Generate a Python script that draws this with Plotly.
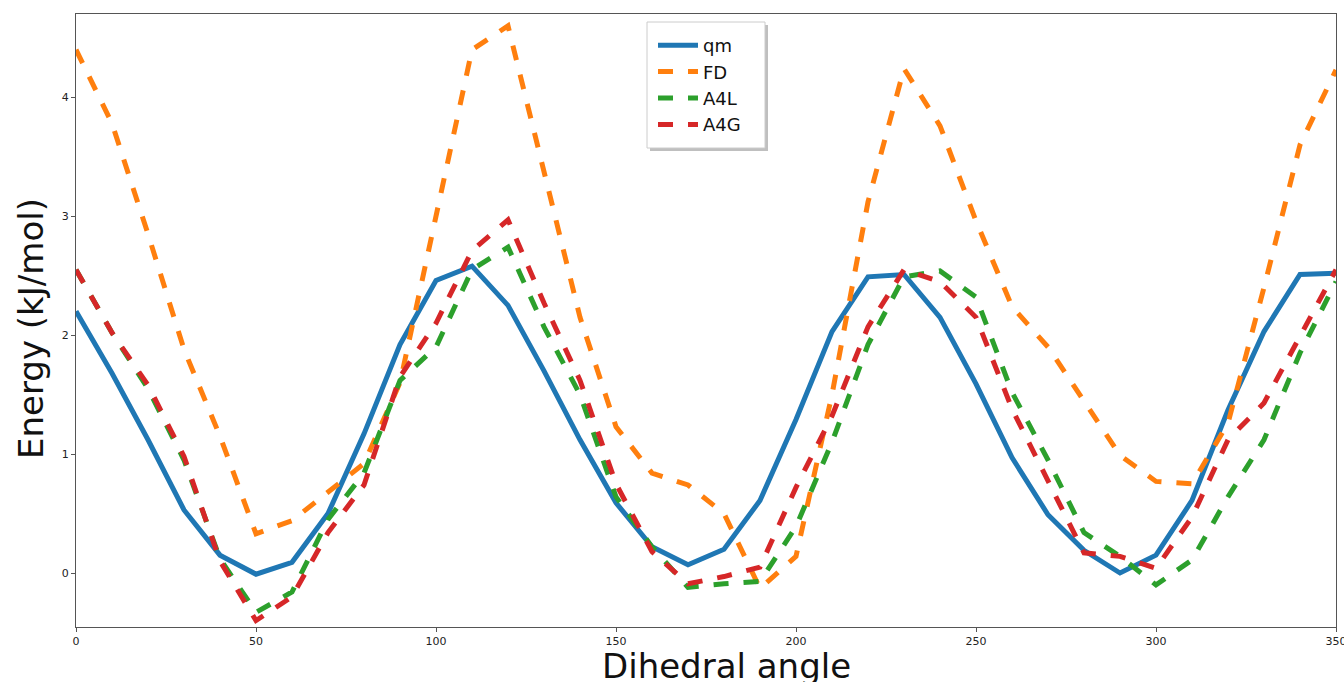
import plotly.graph_objects as go

angles = list(range(0, 360, 10))

qm = [2.20, 1.68, 1.12, 0.53, 0.15, -0.01, 0.09, 0.50, 1.17, 1.92,
      2.46, 2.58, 2.25, 1.70, 1.12, 0.59, 0.22, 0.07, 0.20, 0.61,
      1.29, 2.03, 2.49, 2.51, 2.15, 1.59, 0.97, 0.49, 0.19, 0.00,
      0.15, 0.61, 1.37, 2.03, 2.51, 2.52]

fd = [4.40, 3.78, 2.85, 1.88, 1.15, 0.33, 0.44, 0.68, 0.92, 1.60,
      3.00, 4.40, 4.60, 3.38, 2.15, 1.23, 0.84, 0.74, 0.50, -0.13,
      0.14, 1.50, 3.12, 4.24, 3.76, 2.96, 2.24, 1.90, 1.45, 0.99,
      0.77, 0.75, 1.26, 2.40, 3.60, 4.23]

a4l = [2.55, 2.02, 1.55, 0.95, 0.12, -0.33, -0.16, 0.45, 0.84, 1.62,
       1.90, 2.55, 2.74, 2.07, 1.50, 0.64, 0.22, -0.12, -0.09, -0.07,
       0.39, 1.10, 1.92, 2.49, 2.54, 2.32, 1.52, 0.95, 0.34, 0.14,
       -0.10, 0.11, 0.64, 1.12, 1.85, 2.45]

a4g = [2.55, 2.02, 1.58, 0.98, 0.10, -0.40, -0.20, 0.34, 0.74, 1.65,
       2.10, 2.71, 2.97, 2.27, 1.62, 0.75, 0.18, -0.09, -0.03, 0.05,
       0.72, 1.32, 2.07, 2.55, 2.45, 2.15, 1.38, 0.78, 0.17, 0.14,
       0.04, 0.47, 1.12, 1.43, 2.00, 2.55]

x_ticks = [0, 50, 100, 150, 200, 250, 300, 350]
y_ticks = [0, 1, 2, 3, 4]

series = [("qm", qm, "#1f77b4", "solid"),
          ("FD", fd, "#ff7f0e", "dash"),
          ("A4L", a4l, "#2ca02c", "dash"),
          ("A4G", a4g, "#d62728", "dash")]

fig = go.Figure()
for name, vals, color, dash in series:
    fig.add_trace(go.Scatter(x=angles, y=vals, name=name, mode="lines",
                             line=dict(color=color, width=5, dash=dash)))

axis_common = dict(showline=True, linecolor="#555555", linewidth=1.2, mirror=True,
                   ticks="outside", ticklen=4, tickcolor="#555555",
                   showgrid=False, zeroline=False, automargin=False,
                   ticklabeloverflow="allow",
                   tickfont=dict(family="DejaVu Sans", size=11, color="#222222"))

# plot area in pixels: left 76, right 1336, top 14, bottom 627
L, R, T, B = 76, 1336, 14, 627
def px(x):
    return (x - L) / (R - L)
def py(y):
    return (B - y) / (B - T)

shapes = [
    # legend shadow and box (matplotlib-like fancybox)
    dict(type="rect", xref="paper", yref="paper", layer="above",
         x0=px(650), x1=px(768), y0=py(151), y1=py(25),
         fillcolor="rgba(0,0,0,0.25)", line=dict(width=0)),
    dict(type="rect", xref="paper", yref="paper", layer="above",
         x0=px(647), x1=px(765), y0=py(148), y1=py(22),
         fillcolor="white", line=dict(color="#cccccc", width=1)),
]

annotations = [
    dict(text="Dihedral angle", xref="paper", yref="paper", x=px(726), y=py(666),
         xanchor="center", yanchor="middle", showarrow=False,
         font=dict(family="DejaVu Sans", size=34, color="#111111")),
    dict(text="Energy (kJ/mol)", xref="paper", yref="paper", x=px(31), y=py(329),
         xanchor="center", yanchor="middle", showarrow=False, textangle=-90,
         font=dict(family="DejaVu Sans", size=34, color="#111111")),
]

fig.update_layout(
    width=1344, height=682,
    margin=dict(l=L, r=1344 - R, t=T, b=682 - B),
    plot_bgcolor="white", paper_bgcolor="white",
    xaxis=dict(range=[0, 350.0001], tickvals=x_ticks, **axis_common),
    yaxis=dict(range=[-0.454, 4.70], tickvals=y_ticks, **axis_common),
    legend=dict(x=px(653), y=py(27), xanchor="left", yanchor="top",
                bgcolor="rgba(0,0,0,0)", borderwidth=0,
                font=dict(family="DejaVu Sans", size=18, color="#111111"),
                itemwidth=40),
    shapes=shapes,
    annotations=annotations,
    showlegend=True,
)

fig.write_html("out.html")
